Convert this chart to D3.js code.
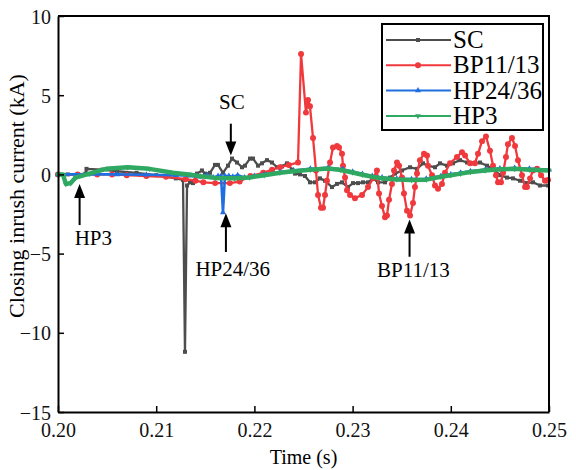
<!DOCTYPE html>
<head>
    <meta charset="utf-8">
    <script src="https://d3js.org/d3.v7.min.js"></script>
</head>
<body style="background: white; margin: 0">
    <div id="my_dataviz"></div>
    <script>
        // ---- data ----
        var seriesNames = ["SC", "BP11/13", "HP24/36", "HP3"]
        var xTicks = [0.20, 0.21, 0.22, 0.23, 0.24, 0.25]
        var yTicks = [-15, -10, -5, 0, 5, 10]

        var scTime = [0.2000, 0.2010, 0.2020, 0.2028, 0.2029, 0.2045, 0.2060, 0.2080, 0.2100, 0.2120, 0.21273, 0.21293, 0.21314,
            0.21344, 0.21375, 0.21415, 0.21466, 0.21497, 0.21548, 0.21599, 0.21629, 0.21680, 0.21731, 0.21772, 0.21823, 0.21874,
            0.21904, 0.21955, 0.21986, 0.22037, 0.22077, 0.22128, 0.22179, 0.22230, 0.22281, 0.22332, 0.22383, 0.22413, 0.22464,
            0.22515, 0.22566, 0.22617, 0.22668, 0.22719, 0.22790, 0.22841, 0.22892, 0.22953, 0.23004, 0.23055, 0.23106, 0.23157,
            0.23208, 0.23259, 0.23330, 0.23381, 0.23432, 0.23503, 0.23585, 0.23656, 0.23717, 0.23768, 0.23839, 0.23890, 0.23961,
            0.24022, 0.24094, 0.24165, 0.24226, 0.24297, 0.24369, 0.24430, 0.24501, 0.24572, 0.24633, 0.24705, 0.24776, 0.24837,
            0.24908, 0.24990]
        var scValue = [0, 0, 0, 0.05, 0.35, 0.3, 0.2, 0.1, -0.05, -0.25, -0.35, -11.2, -0.7,
            -0.5, -0.55, 0.05, 0.25, 0.05, 0.1, 0.6, 0.6, 0.1, 0.55, 1.0, 0.75, 0.45,
            0.55, 1.0, 1.0, 0.55, 0.7, 0.9, 0.75, 0.45, 0.5, 0.7, 0.3, 0.05, 0.0,
            -0.1, -0.5, -0.5, -0.25, -0.4, -0.8, -0.6, -0.5, -0.8, -0.55, -0.55, -0.5, -0.5,
            -0.25, -0.5, -0.5, -0.2, 0.05, 0.25, 0.45, 0.35, 0.7, 0.55, 0.45, 0.7, 0.55,
            0.7, 0.9, 0.75, 0.7, 0.75, 0.55, 0.35, -0.05, -0.2, -0.25, -0.4, -0.55, -0.5,
            -0.7, -0.7]

        var bpTime = [0.2000, 0.2020, 0.2040, 0.2055, 0.2070, 0.2090, 0.2110, 0.2130, 0.2140, 0.2148, 0.2160, 0.2175, 0.2185,
            0.2196, 0.2209, 0.2218, 0.2226, 0.2235, 0.22444, 0.22475, 0.22525, 0.22546, 0.22566, 0.22597, 0.22627, 0.22648,
            0.22678, 0.22699, 0.22719, 0.22739, 0.22770, 0.22800, 0.22841, 0.22862, 0.22892, 0.22902, 0.22923, 0.22943, 0.22974,
            0.23024, 0.23096, 0.23157, 0.23208, 0.23248, 0.23269, 0.23299, 0.23330, 0.23350, 0.23371, 0.23401, 0.23422, 0.23452,
            0.23473, 0.23503, 0.23523, 0.23554, 0.23585, 0.23615, 0.23635, 0.23656, 0.23686, 0.23727, 0.23758, 0.23768, 0.23809,
            0.23839, 0.23870, 0.23910, 0.23941, 0.23992, 0.24063, 0.24114, 0.24145, 0.24196, 0.24246, 0.24277, 0.24318, 0.24358,
            0.24399, 0.24430, 0.24460, 0.24481, 0.24511, 0.24532, 0.24562, 0.24582, 0.24623, 0.24654, 0.24684, 0.24725, 0.24756,
            0.24776, 0.24807, 0.24837, 0.24878, 0.24919, 0.24959, 0.24990]
        var bpValue = [0, 0, 0, 0, -0.05, -0.1, -0.15, -0.3, -0.4, -0.5, -0.55, -0.55, -0.45,
            -0.1, 0.1, 0.3, 0.45, 0.6, 0.75, 7.6, 3.9, 4.7, 4.3, 2.3, 0.25, -1.3,
            -2.1, -2.1, -1.3, -0.4, 0.75, 1.7, 1.8, 1.7, 1.3, 0.55, -0.2, -1.0, -1.3,
            -1.5, -1.3, -0.8, -0.25, 0.25, -1.2, -2.0, -2.7, -2.6, -1.6, -0.6, 0.25, 0.75,
            0.55, -0.2, -1.2, -2.3, -2.6, -1.8, -0.8, 0.05, 0.9, 1.3, 1.2, 0.55, -0.05,
            -0.7, -0.9, -0.6, 0.1, 0.7, 1.1, 1.4, 1.2, 0.7, 0.7, 1.3, 2.1, 2.4,
            1.5, 0.55, -0.05, -0.5, -0.5, 0.1, 1.1, 1.9, 2.3, 1.8, 0.9, -0.05, -0.8,
            -0.8, -0.25, 0.25, 0.35, -0.05, -0.4, -0.35]

        var hp24Time = [0.2000, 0.2030, 0.2060, 0.2090, 0.2120, 0.2135, 0.2145, 0.2152, 0.2158, 0.2163, 0.2166, 0.2168, 0.2170,
            0.2174, 0.2178, 0.2183, 0.2190, 0.2200, 0.2210, 0.2226, 0.2240, 0.2257, 0.2275, 0.2290, 0.2300, 0.2310, 0.2320,
            0.2330, 0.2345, 0.2360, 0.2375, 0.2390, 0.2400, 0.2410, 0.2420, 0.2435, 0.2450, 0.2465, 0.2480, 0.2500]
        var hp24Value = [0, 0, 0, -0.02, -0.05, -0.08, -0.15, -0.05, -0.2, -0.1, -0.1, -2.4, -0.1,
            -0.1, -0.15, -0.05, -0.2, -0.1, 0.0, 0.15, 0.25, 0.35, 0.42, 0.32, 0.17, 0.02, -0.1,
            -0.2, -0.27, -0.3, -0.28, -0.1, 0.0, 0.1, 0.2, 0.3, 0.37, 0.4, 0.35, 0.3]

        var hp3Time = [0.2000, 0.2005, 0.2008, 0.2013, 0.2018, 0.2032, 0.2049, 0.2071, 0.2093, 0.2117, 0.2133, 0.2145, 0.2160,
            0.2180, 0.2195, 0.2210, 0.2226, 0.2240, 0.2257, 0.2275, 0.2288, 0.2300, 0.2310, 0.2320, 0.2330, 0.2345, 0.2360,
            0.2375, 0.2390, 0.2400, 0.2410, 0.2420, 0.2435, 0.2450, 0.2465, 0.2480, 0.2500]
        var hp3Value = [0, 0, -0.6, -0.55, -0.2, 0.05, 0.35, 0.45, 0.35, 0.1, 0.0, -0.12, -0.22,
            -0.25, -0.2, -0.05, 0.1, 0.2, 0.3, 0.37, 0.28, 0.12, -0.02, -0.15, -0.25, -0.32, -0.35,
            -0.33, -0.15, -0.05, 0.05, 0.15, 0.25, 0.32, 0.35, 0.3, 0.25]

        var colors = ["#4d4d4d", "#f0393d", "#1f6fe0", "#2fa862"]
        var symbols = [d3.symbolSquare, d3.symbolCircle, d3.symbolTriangle, d3.symbolTriangle]

        var series = [
            { name: seriesNames[0], t: scTime, v: scValue, width: 2.3, size: 16 },
            { name: seriesNames[1], t: bpTime, v: bpValue, width: 2.3, size: 28 },
            { name: seriesNames[2], t: hp24Time, v: hp24Value, width: 2.6, size: 16 },
            { name: seriesNames[3], t: hp3Time, v: hp3Value, width: 4.5, size: 14 }
        ]

        var serif = "'Liberation Serif', 'Times New Roman', serif"

        var svg = d3.select("#my_dataviz")
            .append("svg")
            .attr("width", 576)
            .attr("height", 470)
            .style("font-family", serif)

        var plotLeft = 58, plotRight = 549, plotTop = 16, plotBottom = 412

        var x = d3.scaleLinear().domain([0.20, 0.25]).range([plotLeft, plotRight])
        var y = d3.scaleLinear().domain([-15, 10]).range([plotBottom, plotTop])

        var line = d3.line()
            .x(function (d) { return x(d[0]) })
            .y(function (d) { return y(d[1]) })

        // curves
        series.forEach(function (s, i) {
            var pts = s.t.map(function (t, k) { return [t, s.v[k]] })
            var g = svg.append("g")
            g.append("path")
                .datum(pts)
                .attr("fill", "none")
                .attr("stroke", colors[i])
                .attr("stroke-width", s.width)
                .attr("stroke-linejoin", "round")
                .attr("d", line)
            g.selectAll("path.mk")
                .data(pts)
                .enter()
                .append("path")
                .attr("class", "mk")
                .attr("d", d3.symbol().type(symbols[i]).size(s.size))
                .attr("fill", colors[i])
                .attr("transform", function (d) {
                    return "translate(" + x(d[0]) + "," + y(d[1]) + ")" + (i == 3 ? " rotate(180)" : "")
                })
        })

        // axes
        var xAxis = svg.append("g")
            .attr("transform", "translate(0," + plotBottom + ")")
            .call(d3.axisBottom(x).tickValues(xTicks).tickFormat(d3.format(".2f"))
                .tickSizeInner(-6).tickSizeOuter(0).tickPadding(11))
        var yAxis = svg.append("g")
            .attr("transform", "translate(" + plotLeft + ",0)")
            .call(d3.axisLeft(y).tickValues(yTicks).tickFormat(d3.format("d"))
                .tickSizeInner(-6).tickSizeOuter(0).tickPadding(7))
        svg.selectAll(".tick text")
            .style("font-size", "20px")
            .style("font-family", serif)
            .attr("fill", "#111")
        svg.selectAll(".tick line").attr("stroke", "#000").attr("stroke-width", 1.5)
        svg.selectAll(".domain").attr("stroke", "#000").attr("stroke-width", 2)
        yAxis.selectAll(".tick text").attr("dy", "0.35em")

        // frame top / right
        svg.append("path")
            .attr("d", "M" + plotLeft + "," + plotTop + "H" + plotRight + "V" + plotBottom)
            .attr("fill", "none")
            .attr("stroke", "#000")
            .attr("stroke-width", 2)

        // axis titles
        svg.append("text")
            .attr("x", (plotLeft + plotRight) / 2)
            .attr("y", 464)
            .attr("text-anchor", "middle")
            .style("font-size", "20px")
            .text("Time (s)")
        svg.append("text")
            .attr("transform", "translate(24,196) rotate(-90)")
            .attr("text-anchor", "middle")
            .style("font-size", "22px")
            .text("Closing inrush current (kA)")

        // annotations with arrows
        var notes = [
            { label: "SC", t: 0.2176, tip: 1.2, tail: 3.2, lx: 0.2177, ly: 4.1 },
            { label: "HP3", t: 0.2022, tip: -0.6, tail: -3.2, lx: 0.2036, ly: -4.45 },
            { label: "HP24/36", t: 0.2171, tip: -2.45, tail: -4.9, lx: 0.2178, ly: -6.4 },
            { label: "BP11/13", t: 0.2358, tip: -2.85, tail: -5.2, lx: 0.2362, ly: -6.5 }
        ]
        notes.forEach(function (n) {
            var ax = x(n.t), y1 = y(n.tip), y0 = y(n.tail)
            var dir = y1 > y0 ? 1 : -1
            svg.append("line")
                .attr("x1", ax).attr("x2", ax)
                .attr("y1", y0).attr("y2", y1 - dir * 8)
                .attr("stroke", "#000").attr("stroke-width", 2)
            svg.append("path")
                .attr("d", "M" + ax + "," + y1 + "L" + (ax - 5.5) + "," + (y1 - dir * 14) +
                    "L" + (ax + 5.5) + "," + (y1 - dir * 14) + "Z")
                .attr("fill", "#000")
            svg.append("text")
                .attr("x", x(n.lx))
                .attr("y", y(n.ly))
                .attr("text-anchor", "middle")
                .style("font-size", "21px")
                .text(n.label)
        })

        // legend
        var legend = svg.append("g").attr("transform", "translate(382,24)")
        legend.append("rect")
            .attr("width", 161).attr("height", 106)
            .attr("fill", "white").attr("stroke", "#000").attr("stroke-width", 2)
        seriesNames.forEach(function (name, i) {
            var ly = 16 + i * 25.3
            legend.append("line")
                .attr("x1", 4).attr("x2", 69).attr("y1", ly).attr("y2", ly)
                .attr("stroke", colors[i]).attr("stroke-width", 2)
            legend.append("path")
                .attr("d", d3.symbol().type(symbols[i]).size(series[i].size))
                .attr("fill", colors[i])
                .attr("transform", "translate(36," + ly + ")" + (i == 3 ? " rotate(180)" : ""))
            legend.append("text")
                .attr("x", 71).attr("y", ly + 8)
                .style("font-size", "25px")
                .text(name)
        })
    </script>
</body>
</html>
